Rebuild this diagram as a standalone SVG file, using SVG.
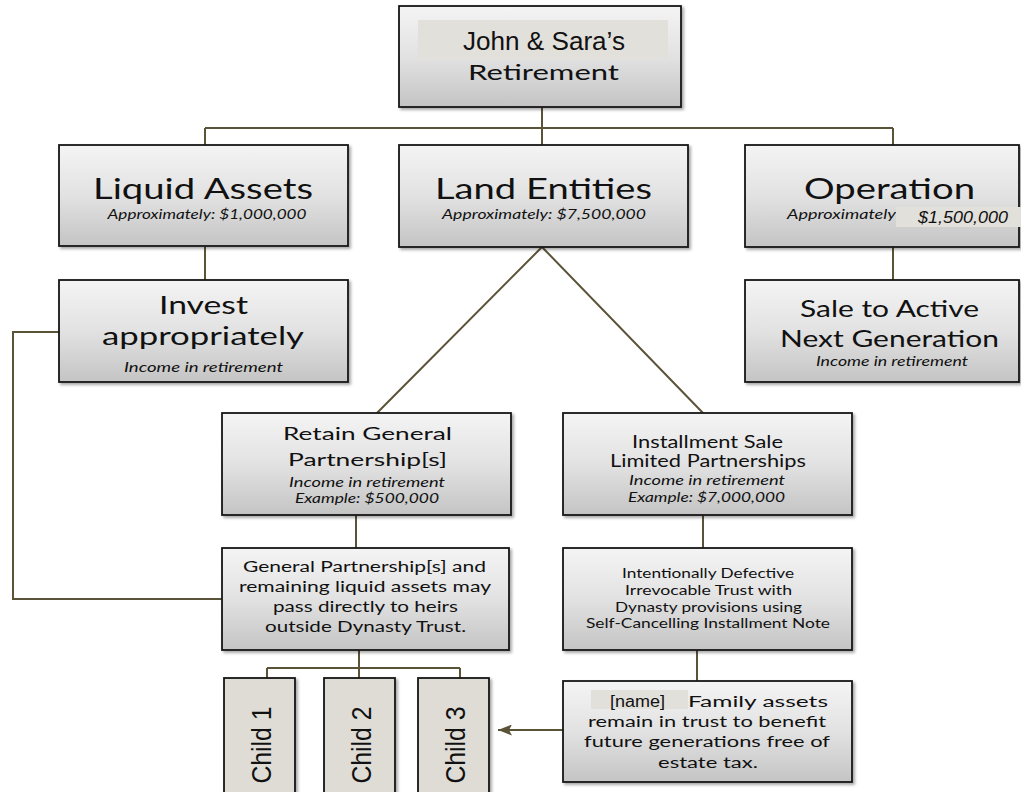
<svg xmlns="http://www.w3.org/2000/svg" width="1021" height="792" viewBox="0 0 1021 792">
<defs>
<linearGradient id="g" x1="0" y1="0" x2="0" y2="1">
<stop offset="0" stop-color="#f4f4f4"/>
<stop offset="0.5" stop-color="#e2e2e2"/>
<stop offset="1" stop-color="#c4c4c4"/>
</linearGradient>
<filter id="sh" x="-5%" y="-5%" width="115%" height="120%">
<feDropShadow dx="2" dy="2" stdDeviation="1.5" flood-color="#000" flood-opacity="0.35"/>
</filter>
<marker id="ah" viewBox="0 0 14 11" refX="14" refY="5.5" markerWidth="14" markerHeight="11" markerUnits="userSpaceOnUse" orient="auto">
<path d="M0,0 L14,5.5 L0,11 L3,5.5 Z" fill="#5b5338"/>
</marker>
<style>
.box{fill:url(#g);stroke:#151515;stroke-width:1.8;filter:url(#sh)}
.child{fill:#dfdcd6;stroke:#151515;stroke-width:1.8;filter:url(#sh)}
.hl{fill:#e2e0db}
.conn{stroke:#5b5338;stroke-width:2;fill:none}
.t{font-family:'Lato','Open Sans',sans-serif;fill:#111;text-anchor:middle}
.i{font-style:italic}
.a{font-family:'Liberation Sans',Arial,sans-serif;fill:#111}
</style>
</defs>

<g id="connectors">
<path class="conn" d="M542,107 V128 M205,128 H893 M205,128 V145 M542,128 V145 M893,128 V145"/>
<path class="conn" d="M205,247 V280 M893,247 V280"/>
<path class="conn" d="M542,247 L377,413 M542,247 L703,413"/>
<path class="conn" d="M59,332 H13 V599 H222"/>
<path class="conn" d="M356,515 V548 M703,515 V548 M697,650 V681"/>
<path class="conn" d="M359,650 V668 M267,668 H460 M267,668 V678 M359,668 V678 M460,668 V678"/>
<path class="conn" d="M563,730 H498" marker-end="url(#ah)"/>
</g>

<g id="n-top">
<rect class="box" x="399" y="6" width="282" height="101"/>
<rect class="hl" x="418" y="20" width="250" height="39"/>
<text class="a" x="544" y="50" font-size="26" text-anchor="middle" textLength="162" lengthAdjust="spacingAndGlyphs">John &amp; Sara’s</text>
<text class="t" x="543.5" y="80" font-size="22" textLength="151" lengthAdjust="spacingAndGlyphs">Retirement</text>
</g>

<g id="n-liquid">
<rect class="box" x="59" y="145" width="289" height="101"/>
<text class="t" x="203" y="199" font-size="28" textLength="220" lengthAdjust="spacingAndGlyphs">Liquid Assets</text>
<text class="t i" x="207" y="219" font-size="13" textLength="199" lengthAdjust="spacingAndGlyphs">Approximately: $1,000,000</text>
</g>

<g id="n-land">
<rect class="box" x="399" y="145" width="289" height="102"/>
<text class="t" x="543.5" y="199" font-size="28" textLength="217" lengthAdjust="spacingAndGlyphs">Land Entities</text>
<text class="t i" x="544" y="219" font-size="13" textLength="204" lengthAdjust="spacingAndGlyphs">Approximately: $7,500,000</text>
</g>

<g id="n-operation">
<rect class="box" x="745" y="145" width="274" height="102"/>
<text class="t" x="889.5" y="199" font-size="28" textLength="171" lengthAdjust="spacingAndGlyphs">Operation</text>
<text class="t i" x="787" y="219" font-size="13" style="text-anchor:start" textLength="109" lengthAdjust="spacingAndGlyphs">Approximately</text>
<rect class="hl" x="896" y="207" width="125" height="20"/>
<text class="a" x="918" y="223" font-size="17" font-style="italic" textLength="90" lengthAdjust="spacingAndGlyphs">$1,500,000</text>
</g>

<g id="n-invest">
<rect class="box" x="59" y="280" width="289" height="102"/>
<text class="t" x="203.5" y="314" font-size="25" textLength="89" lengthAdjust="spacingAndGlyphs">Invest</text>
<text class="t" x="203" y="345" font-size="25" textLength="202" lengthAdjust="spacingAndGlyphs">appropriately</text>
<text class="t i" x="203.5" y="372" font-size="13.5" textLength="159" lengthAdjust="spacingAndGlyphs">Income in retirement</text>
</g>

<g id="n-sale">
<rect class="box" x="745" y="280" width="274" height="102"/>
<text class="t" x="889.5" y="317" font-size="23" textLength="179" lengthAdjust="spacingAndGlyphs">Sale to Active</text>
<text class="t" x="889.5" y="347" font-size="23" textLength="219" lengthAdjust="spacingAndGlyphs">Next Generation</text>
<text class="t i" x="892" y="366" font-size="13" textLength="152" lengthAdjust="spacingAndGlyphs">Income in retirement</text>
</g>

<g id="n-retain">
<rect class="box" x="222" y="413" width="289" height="102"/>
<text class="t" x="367.5" y="440" font-size="18" textLength="169" lengthAdjust="spacingAndGlyphs">Retain General</text>
<text class="t" x="367.5" y="466" font-size="18" textLength="159" lengthAdjust="spacingAndGlyphs">Partnership[s]</text>
<text class="t i" x="367" y="487" font-size="14" textLength="156" lengthAdjust="spacingAndGlyphs">Income in retirement</text>
<text class="t i" x="367" y="503" font-size="14" textLength="144" lengthAdjust="spacingAndGlyphs">Example: $500,000</text>
</g>

<g id="n-installment">
<rect class="box" x="563" y="413" width="289" height="102"/>
<text class="t" x="707.5" y="448" font-size="17" textLength="151" lengthAdjust="spacingAndGlyphs">Installment Sale</text>
<text class="t" x="708" y="467" font-size="17" textLength="196" lengthAdjust="spacingAndGlyphs">Limited Partnerships</text>
<text class="t i" x="707" y="485" font-size="14" textLength="156" lengthAdjust="spacingAndGlyphs">Income in retirement</text>
<text class="t i" x="706.5" y="502" font-size="14" textLength="157" lengthAdjust="spacingAndGlyphs">Example: $7,000,000</text>
</g>

<g id="n-gp">
<rect class="box" x="222" y="548" width="287" height="102"/>
<text class="t" x="364.5" y="572" font-size="15.5" textLength="243" lengthAdjust="spacingAndGlyphs">General Partnership[s] and</text>
<text class="t" x="365" y="592" font-size="15.5" textLength="252" lengthAdjust="spacingAndGlyphs">remaining liquid assets may</text>
<text class="t" x="365.5" y="612" font-size="15.5" textLength="185" lengthAdjust="spacingAndGlyphs">pass directly to heirs</text>
<text class="t" x="365.5" y="632" font-size="15.5" textLength="201" lengthAdjust="spacingAndGlyphs">outside Dynasty Trust.</text>
</g>

<g id="n-idit">
<rect class="box" x="563" y="548" width="289" height="102"/>
<text class="t" x="708" y="578" font-size="13.5" textLength="172" lengthAdjust="spacingAndGlyphs">Intentionally Defective</text>
<text class="t" x="708.5" y="595" font-size="13.5" textLength="167" lengthAdjust="spacingAndGlyphs">Irrevocable Trust with</text>
<text class="t" x="708.5" y="612" font-size="13.5" textLength="187" lengthAdjust="spacingAndGlyphs">Dynasty provisions using</text>
<text class="t" x="708" y="628" font-size="13.5" textLength="244" lengthAdjust="spacingAndGlyphs">Self-Cancelling Installment Note</text>
</g>

<g id="n-family">
<rect class="box" x="563" y="681" width="289" height="101"/>
<rect class="hl" x="591" y="690" width="97" height="19"/>
<text class="a" x="610" y="707" font-size="16" textLength="55" lengthAdjust="spacingAndGlyphs">[name]</text>
<text class="t" x="688" y="707" font-size="15.5" style="text-anchor:start" textLength="140" lengthAdjust="spacingAndGlyphs">Family assets</text>
<text class="t" x="707" y="727" font-size="15.5" textLength="238" lengthAdjust="spacingAndGlyphs">remain in trust to benefit</text>
<text class="t" x="707" y="747" font-size="15.5" textLength="246" lengthAdjust="spacingAndGlyphs">future generations free of</text>
<text class="t" x="708" y="768" font-size="15.5" textLength="100" lengthAdjust="spacingAndGlyphs">estate tax.</text>
</g>

<g id="n-child1">
<rect class="child" x="224" y="678" width="71" height="130"/>
<text class="a" transform="translate(271,745) rotate(-90)" font-size="27" text-anchor="middle" textLength="77" lengthAdjust="spacingAndGlyphs">Child 1</text>
</g>
<g id="n-child2">
<rect class="child" x="324" y="678" width="71" height="130"/>
<text class="a" transform="translate(371,745) rotate(-90)" font-size="27" text-anchor="middle" textLength="77" lengthAdjust="spacingAndGlyphs">Child 2</text>
</g>
<g id="n-child3">
<rect class="child" x="418" y="678" width="71" height="130"/>
<text class="a" transform="translate(465,745) rotate(-90)" font-size="27" text-anchor="middle" textLength="77" lengthAdjust="spacingAndGlyphs">Child 3</text>
</g>
</svg>
